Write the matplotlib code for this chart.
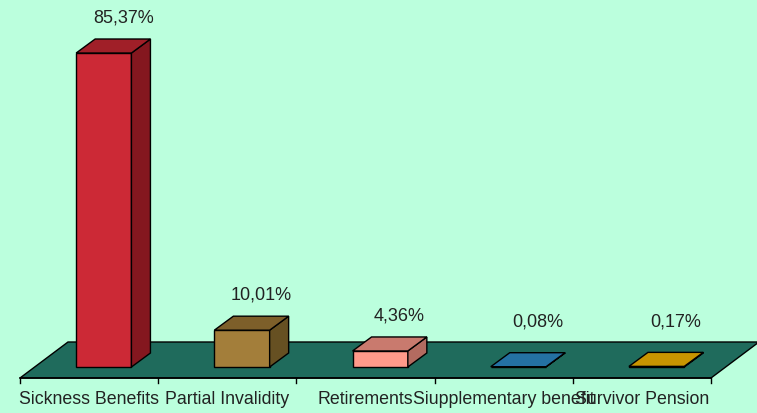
import matplotlib.pyplot as plt
from matplotlib.patches import Polygon

categories = ['Sickness Benefits', 'Partial Invalidity', 'Retirements',
              'Siupplementary benefit', 'Survivor Pension']
values = [85.37, 10.01, 4.36, 0.08, 0.17]
labels = ['85,37%', '10,01%', '4,36%', '0,08%', '0,17%']
front_colors = ['#CC2936', '#A37E3A', '#FF9A8A', '#2471A3', '#C89500']
side_colors = ['#84171F', '#665022', '#B36B60', '#1A527A', '#8C6900']
top_colors = ['#A01F28', '#7D5F2A', '#C97A6E', '#2471A3', '#C89500']

bg = '#BBFFDD'
floor_color = '#1F6B5C'

plt.rcParams['font.family'] = ['Liberation Sans', 'DejaVu Sans']

fig = plt.figure(figsize=(7.57, 4.13), dpi=100, facecolor=bg)
ax = fig.add_axes([20 / 757, 35 / 413, 691 / 757, 378 / 413])
ax.set_facecolor(bg)
ax.set_xlim(0, 5)
ax.set_ylim(0, 378 / 3.678)
ax.axis('off')

# depth offsets in data units
px_x = 5 / 691
px_y = 1 / 3.678
floor_dx, floor_dy = 48 * px_x, 36 * px_y
front_dx, front_dy = 14.7 * px_x, 11 * px_y
bar_dx, bar_dy = 19 * px_x, 14 * px_y
bar_w = 0.4

n = len(categories)
floor = Polygon([(0, 0), (n, 0), (n + floor_dx, floor_dy), (floor_dx, floor_dy)],
                closed=True, facecolor=floor_color, edgecolor='black', lw=1, clip_on=False)
ax.add_patch(floor)

for i, v in enumerate(values):
    x0 = i + 0.5 - bar_w / 2 + front_dx
    y0 = front_dy
    front = [(x0, y0), (x0 + bar_w, y0), (x0 + bar_w, y0 + v), (x0, y0 + v)]
    side = [(x0 + bar_w, y0), (x0 + bar_w + bar_dx, y0 + bar_dy),
            (x0 + bar_w + bar_dx, y0 + bar_dy + v), (x0 + bar_w, y0 + v)]
    top = [(x0, y0 + v), (x0 + bar_w, y0 + v),
           (x0 + bar_w + bar_dx, y0 + v + bar_dy), (x0 + bar_dx, y0 + v + bar_dy)]
    for pts, c in [(front, front_colors[i]), (side, side_colors[i]), (top, top_colors[i])]:
        ax.add_patch(Polygon(pts, closed=True, facecolor=c, edgecolor='black',
                             lw=1, clip_on=False))
    ax.text(x0 + bar_w / 2 + 0.14, max(y0 + v + bar_dy, 9.5) + 5.7, labels[i],
            ha='center', va='center', fontsize=13, color='#222222')

# baseline with ticks and category labels
ax.plot([0, n], [0, 0], color='black', lw=1.2, clip_on=False)
for i in range(n + 1):
    ax.plot([i, i], [0, -5 * px_y], color='black', lw=1, clip_on=False)
for i, c in enumerate(categories):
    ax.text(i + 0.5, -21 * px_y, c, ha='center', va='center',
            fontsize=12.8, color='#222222', clip_on=False)

fig.savefig('out.png', dpi=100, facecolor=bg)
